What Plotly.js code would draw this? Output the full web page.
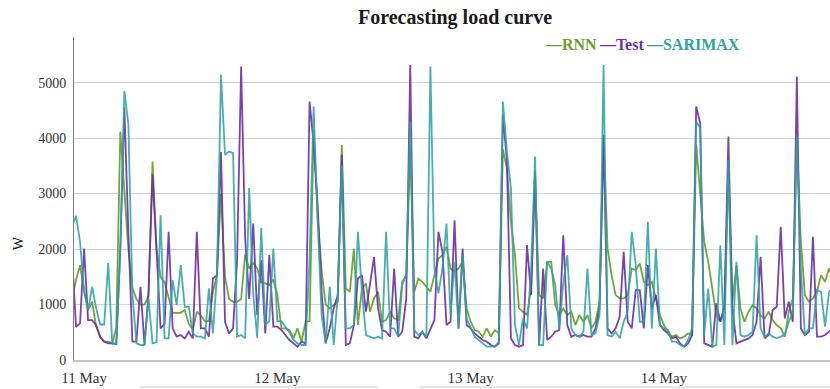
<!DOCTYPE html>
<html>
<head>
<meta charset="utf-8">
<script src="https://cdn.plot.ly/plotly-3.0.1.min.js"></script>
<style>
  html, body { margin: 0; padding: 0; background: #ffffff; }
  #chart { width: 830px; height: 389px; }
</style>
</head>
<body>
<div id="chart"></div>
<script>
// ---- Data (half-hourly samples, first sample 10 May 22:30) ----
const seriesNames = ["RNN", "Test", "SARIMAX"];
const tickLabels = ["11 May", "12 May", "13 May", "14 May"];
const tickDates = ["2021-05-11 00:00", "2021-05-12 00:00", "2021-05-13 00:00", "2021-05-14 00:00"];
const startTime = "2021-05-10T22:30:00";
const stepMinutes = 30;

const rnn = [1100,
  1440,1710,1250,900,1050,600,420,330,330,300,
  580,4120,3000,2000,1300,1100,1000,1000,1150,3580,
  2000,1500,1400,1100,850,850,850,900,650,550,
  870,800,700,700,1230,1530,3000,1500,1100,1050,
  1050,1100,1900,1650,1750,1650,1400,1380,1350,1450,
  1170,570,570,540,390,570,330,690,700,4150,
  2600,1600,1000,930,990,1050,3880,1290,1230,2010,
  630,1290,1380,870,1110,1230,690,720,870,750,
  720,1410,1530,3820,1230,1470,1410,1320,1230,1530,
  1830,1890,2040,1650,1590,1650,1770,930,690,540,
  510,420,570,420,540,480,3800,3450,2490,1890,
  930,870,810,1290,3300,1170,1110,1770,1770,990,
  810,930,810,870,630,810,690,810,570,690,
  1050,4000,2010,1530,1170,1110,1110,1170,1650,1620,
  1740,1410,1350,1410,1110,810,630,510,420,450,
  390,420,480,450,3880,2970,2130,1770,1290,810,
  690,870,3400,1050,1710,930,690,870,990,930,
  810,750,870,720,630,570,420,870,1110,4000,
  2130,1170,1050,1110,1230,1530,1410,1650,1500];

const test = [1900,
  600,660,2010,720,720,630,420,330,300,300,
  285,2000,4550,2300,330,330,1320,270,1200,3350,
  1900,570,650,2310,570,420,450,390,510,390,
  2310,570,570,420,1470,1530,3750,690,480,570,
  1800,5290,2200,1100,2460,810,1800,480,1890,600,
  600,540,450,360,300,240,330,300,4660,3900,
  2800,1200,300,570,930,1170,3700,270,300,630,
  1470,1530,870,1380,1860,930,540,510,420,1650,
  420,510,1100,5320,420,390,510,390,570,720,
  2310,1950,630,690,2520,570,2010,630,570,480,
  420,360,330,270,240,300,4420,3600,390,270,
  240,270,2070,1170,3400,270,1650,360,420,510,
  540,2250,630,420,450,420,450,420,420,570,
  930,4060,570,480,570,780,1950,690,570,1260,
  1260,570,1710,930,1170,630,540,480,390,420,
  300,240,300,450,4570,4270,300,270,240,1020,
  690,990,4030,930,300,330,360,390,450,690,
  1860,390,450,900,960,2400,750,1050,690,5110,
  570,450,510,2220,420,420,450,510,600];

const sarimax = [2400,
  2600,2130,1250,900,1320,930,640,640,1750,300,
  300,2000,4850,4250,1200,300,270,270,1110,300,
  320,2610,390,390,1440,990,1710,960,960,480,
  420,420,390,1290,480,1530,5140,3700,3760,3730,
  420,450,390,3100,1200,400,2380,630,700,2010,
  700,700,600,500,360,300,270,270,1800,4570,
  2500,800,300,1320,270,1170,3500,570,570,630,
  2310,1230,450,420,390,420,390,2310,570,570,
  420,1350,1530,4300,540,450,510,420,5290,1650,
  1200,1650,2460,810,1770,570,1890,750,570,420,
  360,300,240,240,240,330,4660,3760,3100,630,
  270,750,570,1600,3670,270,270,1770,1650,1350,
  570,1380,1890,570,450,420,510,1650,450,480,
  810,5320,450,420,510,390,690,870,2310,1710,
  690,690,2490,570,2010,630,570,540,330,330,
  270,240,360,570,4300,4180,450,1290,240,270,
  2070,270,3600,270,1770,450,420,450,510,2250,
  570,420,480,420,390,420,450,690,870,4030,
  1650,450,570,570,1260,1230,600,1230,1300];

// ---- time axis ----
function pad(n){ return (n < 10 ? "0" : "") + n; }
function fmt(d){
  return d.getFullYear() + "-" + pad(d.getMonth()+1) + "-" + pad(d.getDate()) + " " +
         pad(d.getHours()) + ":" + pad(d.getMinutes()) + ":00";
}
const t0 = new Date(startTime);
const times = rnn.map((_, i) => fmt(new Date(t0.getTime() + i * stepMinutes * 60000)));

const colors = { RNN: "#6aa12f", Test: "#6c2ea6", SARIMAX: "#2fa3a3" };
const serif = "Liberation Serif, Times New Roman, serif";

const traces = [
  { x: times, y: rnn, name: seriesNames[0], type: "scatter", mode: "lines",
    line: { color: colors.RNN, width: 1.8 }, opacity: 0.95 },
  { x: times, y: test, name: seriesNames[1], type: "scatter", mode: "lines",
    line: { color: colors.Test, width: 1.8 }, opacity: 0.9 },
  { x: times, y: sarimax, name: seriesNames[2], type: "scatter", mode: "lines",
    line: { color: colors.SARIMAX, width: 1.8 }, opacity: 0.88 }
];

const legendText =
  '<b><span style="color:' + colors.RNN + '">\u2014' + seriesNames[0] + '</span>\u2009' +
  '<span style="color:' + colors.Test + '">\u2014' + seriesNames[1] + '</span>\u2009' +
  '<span style="color:' + colors.SARIMAX + '">\u2014' + seriesNames[2] + '</span></b>';

const layout = {
  width: 830, height: 389,
  margin: { l: 74, r: 0, t: 37, b: 29 },
  paper_bgcolor: "#ffffff", plot_bgcolor: "#ffffff",
  showlegend: false,
  title: { text: "<b>Forecasting load curve</b>",
           font: { family: serif, size: 20, color: "#1a1a1a" },
           x: 0.504, xanchor: "center", xref: "paper",
           y: 0.956, yanchor: "middle", yref: "container" },
  xaxis: {
    type: "date",
    range: ["2021-05-10 22:45:00", "2021-05-14 20:37:00"],
    tickvals: tickDates, ticktext: tickLabels,
    showgrid: false, zeroline: false,
    showline: true, linecolor: "#c4c4c4", linewidth: 2,
    ticks: "", ticklabelstandoff: 3,
    tickfont: { family: serif, size: 15, color: "#333333" },
    fixedrange: true
  },
  yaxis: {
    range: [0, 5823],
    tickvals: [0, 1000, 2000, 3000, 4000, 5000],
    showgrid: true, gridcolor: "#d4d4d4", gridwidth: 1,
    zeroline: false,
    showline: true, linecolor: "#808080", linewidth: 1,
    ticks: "", ticklabelstandoff: 4,
    tickfont: { family: serif, size: 14, color: "#333333" },
    fixedrange: true
  },
  annotations: [
    { text: legendText, xref: "paper", yref: "paper", x: 0.62, y: 0.978,
      xanchor: "left", yanchor: "middle", showarrow: false,
      font: { family: serif, size: 16, color: "#333" } },
    { text: "W", xref: "paper", yref: "paper", x: -0.074, y: 0.362,
      xanchor: "center", yanchor: "middle", textangle: -90, showarrow: false,
      font: { family: serif, size: 14, color: "#222" } }
  ],
  shapes: [
    { type: "line", xref: "paper", yref: "paper", x0: 0.0873, x1: 0.402, y0: -0.084, y1: -0.084,
      line: { color: "#e4e4e4", width: 2 } },
    { type: "line", xref: "paper", yref: "paper", x0: 0.4577, x1: 1.0, y0: -0.084, y1: -0.084,
      line: { color: "#e4e4e4", width: 2 } }
  ]
};

Plotly.newPlot("chart", traces, layout, { displayModeBar: false, staticPlot: true });
</script>
</body>
</html>
